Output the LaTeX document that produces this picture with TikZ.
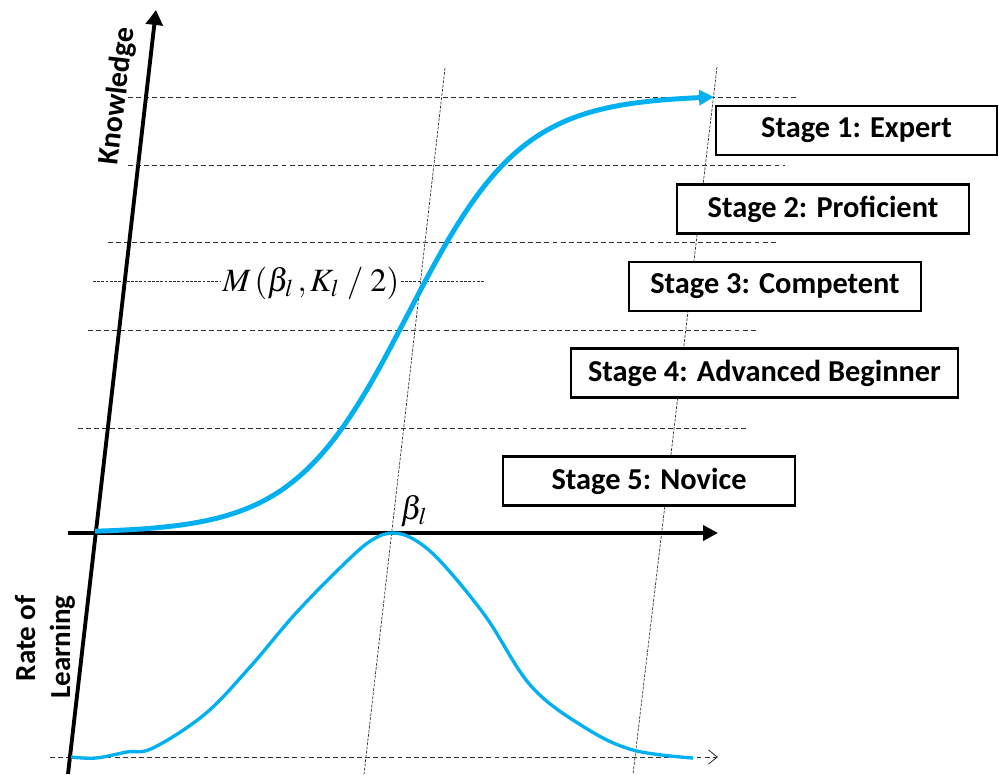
\documentclass[tikz,border=0pt]{standalone}
\usepackage{mathptmx}
\usepackage[no-math]{fontspec}
\setmainfont{Carlito}
\usetikzlibrary{arrows.meta}
\definecolor{curveblue}{HTML}{00B0F0}
\definecolor{guidegray}{HTML}{303030}

\begin{document}
\begin{tikzpicture}[x=0.02cm, y=-0.02cm, every node/.style={align=center},
  stagebox/.style={draw, line width=1.6pt, fill=white, inner sep=0pt, minimum height=0.98cm, font=\bfseries\fontsize{17.3}{20}\selectfont},
  level/.style={guidegray, line width=0.5pt, dash pattern=on 2.8pt off 1.8pt},
  fineline/.style={guidegray, line width=0.4pt, dash pattern=on 1.6pt off 0.8pt}]
\useasboundingbox (0,0) rectangle (999,774);

% Axis points
\coordinate (kbase) at (68,774);
\coordinate (ktop) at (156,10);
\coordinate (origin) at (68,533);
\coordinate (tend) at (718,533);
\coordinate (rstart) at (50,757);
\coordinate (rend) at (718,757);

% Stage levels
\draw[level] (128,97) -- (797,97);
\draw[level] (128,165) -- (785,165);
\draw[level] (108,242) -- (777,242);
\draw[level] (88,330) -- (757,330);
\draw[level] (78,428) -- (747,428);
\draw[fineline] (93,281) -- (485,281);
\draw[level, -{Straight Barb[length=5pt, width=8pt]}] (rstart) -- (rend);

% Guides through the peak and the end
\draw[fineline] (445,68) -- (364,774);
\draw[fineline] (717,67) -- (633,774);

% Draw the axes
\draw[line width=2.2pt, -{Triangle[length=8.5pt, width=9.5pt]}] (kbase) -- (ktop);
\draw[line width=2.2pt, -{Triangle[length=8.5pt, width=8.5pt]}] (origin) -- (tend);

% Knowledge curve
\draw[curveblue, line width=2.8pt, -{Triangle[length=8.5pt, width=8.5pt]}]
  plot[domain=95:714, samples=120] (\x, {533-438/(1+exp(-(\x-408)/57))});

% Rate of learning curve
\draw[curveblue, line width=1.9pt] plot[smooth, tension=0.6] coordinates {
  (71,757) (96,758) (127,752) (153,748) (205,714) (250,667) (296,613)
  (345,563) (372,540) (393,533) (415,540) (442,563) (486,617) (531,686)
  (584,727) (633,750) (693,758)};

% Labels
\node[rotate=83.4, font=\bfseries\fontsize{17}{20}\selectfont] (know) at (118,96) {Knowledge};
\node[rotate=90, align=right, font=\bfseries\fontsize{16.5}{20}\selectfont] (rate) at (45,647) {Rate of\\Learning};
\node[fill=white, inner sep=1pt, font=\fontsize{18.5}{22}\selectfont] (mid) at (311,283) {$M\,(\beta_l\,,K_l\;/\;2)$};
\node[font=\fontsize{18.5}{22}\selectfont] (beta) at (414,511) {$\beta_l$};

% Stages
\node[stagebox, minimum width=5.62cm] (expert) at (856.5,130.5) {Stage 1: Expert};
\node[stagebox, minimum width=5.84cm] (proficient) at (823,209) {Stage 2: Proficient};
\node[stagebox, minimum width=5.84cm] (competent) at (775,286.5) {Stage 3: Competent};
\node[stagebox, minimum width=7.74cm] (beginner) at (764.5,373) {Stage 4: Advanced Beginner};
\node[stagebox, minimum width=5.84cm] (novice) at (649,481) {Stage 5: Novice};
\end{tikzpicture}
\end{document}
